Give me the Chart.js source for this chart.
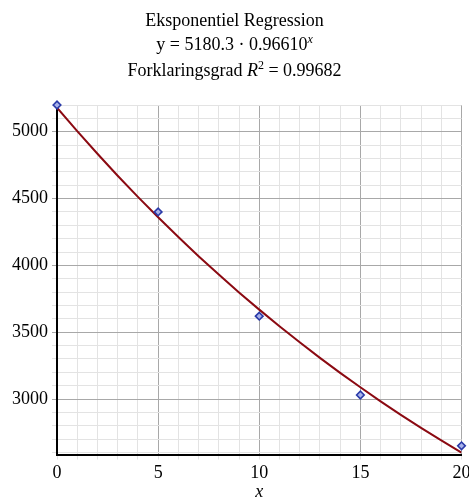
<!DOCTYPE html>
<html lang="da">
<head>
<meta charset="UTF-8">
<title>Eksponentiel Regression</title>
<script src="https://cdn.jsdelivr.net/npm/chart.js"></script>
<style>
  html, body { margin: 0; padding: 0; background: #fff; }
  .wrap { position: relative; width: 469px; height: 497px; overflow: hidden; }
  canvas { position: absolute; left: 0; top: 0; }
  .title {
    position: absolute; left: 0; top: 8px; width: 469px; text-align: center;
    font-family: "Liberation Serif", "Times New Roman", serif; font-size: 18px;
    line-height: 24px; color: #000;
  }
  .title sup { font-size: 12px; vertical-align: 0; position: relative; top: -7px; }
</style>
</head>
<body>
<div class="wrap">
  <canvas id="regChart" width="469" height="497"></canvas>
  <div class="title">
    Eksponentiel Regression<br>
    y = 5180.3 · 0.96610<sup><i>x</i></sup><br>
    Forklaringsgrad <i>R</i><sup>2</sup> = 0.99682
  </div>
</div>

<script>
// observed values
const obsX = [0, 5, 10, 15, 20];
const obsY = [5200, 4400, 3620, 3030, 2650];

// fitted curve, read at each integer x
const fitX = [0, 1, 2, 3, 4, 5, 6, 7, 8, 9, 10, 11, 12, 13, 14, 15, 16, 17, 18, 19, 20];
const fitY = [5180, 5005, 4835, 4671, 4513, 4360, 4212, 4069, 3931, 3798, 3669,
              3545, 3425, 3308, 3196, 3088, 2983, 2882, 2784, 2690, 2599];

const xTicks = fitX;
const yTicks = [2600, 2700, 2800, 2900, 3000, 3100, 3200, 3300, 3400, 3500, 3600, 3700, 3800,
                3900, 4000, 4100, 4200, 4300, 4400, 4500, 4600, 4700, 4800, 4900, 5000, 5100, 5200];

const serif = "'Liberation Serif', 'Times New Roman', serif";
const majorGrid = '#a8a8a8';
const minorGrid = '#e3e3e3';

new Chart(document.getElementById('regChart').getContext('2d'), {
  type: 'scatter',
  data: {
    datasets: [{
      label: 'Data',
      data: obsX.map((x, i) => ({ x: x, y: obsY[i] })),
      pointStyle: 'rectRot',
      pointRadius: 3.8,
      borderColor: '#2a3aa8',
      backgroundColor: '#a8b2ea',
      borderWidth: 1.6,
      clip: false,
      order: 0
    }, {
      label: 'Regression',
      data: fitX.map((x, i) => ({ x: x, y: fitY[i] })),
      showLine: true,
      borderColor: '#8b0a12',
      borderWidth: 2,
      pointRadius: 0,
      tension: 0,
      order: 1
    }]
  },
  options: {
    responsive: false,
    animation: false,
    layout: { padding: { top: 105, right: 7.5, left: 0, bottom: 0 } },
    plugins: { legend: { display: false }, tooltip: { enabled: false } },
    scales: {
      x: {
        type: 'linear', min: 0, max: 20,
        afterBuildTicks: s => { s.ticks = xTicks.map(v => ({ value: v })); },
        afterFit: s => { s.height = 42.5; s.paddingLeft = 0; s.paddingRight = 0; },
        ticks: {
          autoSkip: false, maxRotation: 0, padding: 3, color: '#000',
          font: { family: serif, size: 18 },
          callback: v => (v % 5 === 0 ? String(v) : '')
        },
        grid: {
          color: c => (c.tick && c.tick.value % 5 === 0 ? majorGrid : minorGrid),
          tickColor: minorGrid, tickLength: 5, lineWidth: 1
        },
        border: { color: '#000', width: 2 },
        title: {
          display: true, text: 'x', color: '#000', padding: { top: 0, bottom: -6 },
          font: { family: serif, size: 18, style: 'italic' }
        }
      },
      y: {
        type: 'linear', min: 2585, max: 5200,
        afterBuildTicks: s => { s.ticks = yTicks.map(v => ({ value: v })); },
        afterFit: s => { s.width = 57; s.paddingTop = 0; s.paddingBottom = 0; },
        ticks: {
          autoSkip: false, padding: 4, color: '#000',
          font: { family: serif, size: 18 },
          callback: v => (v % 500 === 0 ? String(v) : '')
        },
        grid: {
          color: c => (c.tick && c.tick.value % 500 === 0 ? majorGrid : minorGrid),
          tickColor: c => (c.tick && c.tick.value % 500 === 0 ? majorGrid : minorGrid),
          tickLength: 5, lineWidth: 1
        },
        border: { color: '#000', width: 2 }
      }
    }
  }
});
</script>
</body>
</html>
